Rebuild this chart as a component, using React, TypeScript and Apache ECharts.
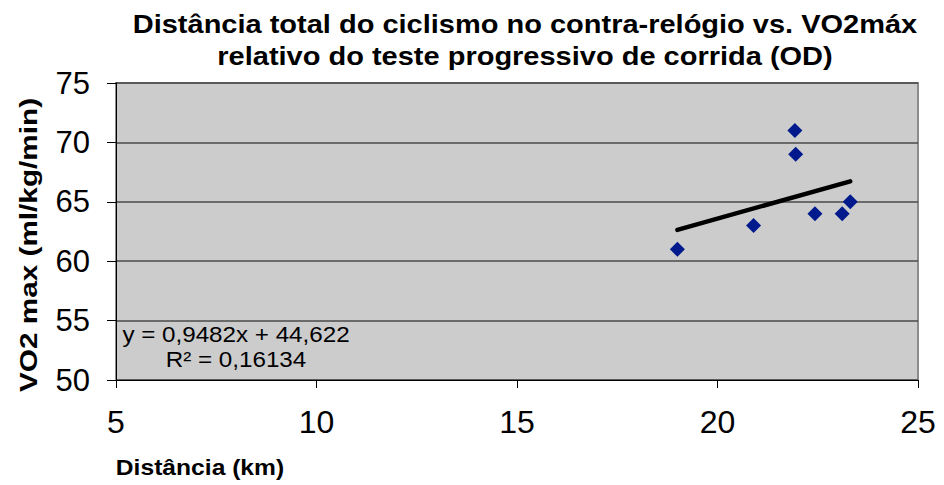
import React, { useEffect, useRef } from "react";
import * as echarts from "echarts";

const distanceKm = [19.0, 20.9, 21.93, 21.95, 22.43, 23.11, 23.31];
const vo2max = [61, 63, 71, 69, 64, 64, 65];
const trendSlope = [0.9482];
const trendIntercept = [44.622];
const trendRange = [19.0, 23.31];
const xTicks = [5, 25, 5];
const yTicks = [50, 75, 5];
const titleLines = [
  "Distância total do ciclismo no contra-relógio vs. VO2máx",
  "relativo do teste progressivo de corrida (OD)",
];
const equationLines = ["y = 0,9482x + 44,622", "R² = 0,16134"];
const xName = "Distância (km)";
const yName = "VO2 max (ml/kg/min)";

const FONT = "'Liberation Sans', Arial, Helvetica, sans-serif";

export default function App() {
  const ref = useRef<HTMLDivElement>(null);
  useEffect(() => {
    if (!ref.current) return;
    const chart = echarts.init(ref.current, undefined, { renderer: "svg" });
    const points = distanceKm.map((x, i) => [x, vo2max[i]]);
    const trend = trendRange.map((x) => [x, trendSlope[0] * x + trendIntercept[0]]);
    chart.setOption({
      animation: false,
      backgroundColor: "#ffffff",
      grid: {
        left: 116,
        right: 26,
        top: 83,
        bottom: 105,
        show: true,
        backgroundColor: "#cccccc",
        borderColor: "#8c8c8c",
        borderWidth: 2,
      },
      xAxis: {
        type: "value",
        min: xTicks[0],
        max: xTicks[1],
        interval: xTicks[2],
        axisLine: { show: true, onZero: false, lineStyle: { color: "#000000", width: 1 } },
        axisTick: { show: true, inside: false, length: 8, lineStyle: { color: "#000000" } },
        splitLine: { show: false },
        axisLabel: { fontSize: 32, color: "#000000", fontFamily: FONT, margin: 26 },
      },
      yAxis: {
        type: "value",
        min: yTicks[0],
        max: yTicks[1],
        interval: yTicks[2],
        axisLine: { show: true, onZero: false, lineStyle: { color: "#000000", width: 1 } },
        axisTick: { show: true, inside: false, length: 9, lineStyle: { color: "#000000" } },
        splitLine: { show: true, lineStyle: { color: "#4a4a4a", width: 1.5 } },
        axisLabel: { fontSize: 31, color: "#000000", fontFamily: FONT, margin: 26 },
      },
      graphic: [
        {
          type: "text",
          x: 525,
          y: 8,
          scaleX: 1.16,
          style: {
            text: titleLines.join("\n"),
            font: `bold 25px ${FONT}`,
            fill: "#000000",
            textAlign: "center",
            textVerticalAlign: "top",
            lineHeight: 32,
          },
        },
        {
          type: "text",
          x: 236,
          y: 322,
          scaleX: 1.1,
          z: 10,
          style: {
            text: equationLines.join("\n"),
            font: `22px ${FONT}`,
            fill: "#000000",
            textAlign: "center",
            textVerticalAlign: "top",
            lineHeight: 25,
          },
        },
        {
          type: "text",
          x: 200,
          y: 456,
          scaleX: 1.12,
          style: {
            text: xName,
            font: `bold 22px ${FONT}`,
            fill: "#000000",
            textAlign: "center",
            textVerticalAlign: "top",
          },
        },
        {
          type: "text",
          x: 17,
          y: 245,
          rotation: Math.PI / 2,
          scaleX: 1.24,
          style: {
            text: yName,
            font: `bold 24px ${FONT}`,
            fill: "#000000",
            textAlign: "center",
            textVerticalAlign: "top",
          },
        },
      ],
      series: [
        {
          type: "line",
          data: trend,
          symbol: "none",
          lineStyle: { color: "#000000", width: 4.5, cap: "round" },
          z: 2,
        },
        {
          type: "scatter",
          data: points,
          symbol: "diamond",
          symbolSize: 15,
          itemStyle: { color: "#001a8e", opacity: 1 },
          z: 3,
        },
      ],
    });
    return () => chart.dispose();
  }, []);
  return <div ref={ref} style={{ width: 944, height: 485, position: "absolute", left: 0, top: 0 }} />;
}
